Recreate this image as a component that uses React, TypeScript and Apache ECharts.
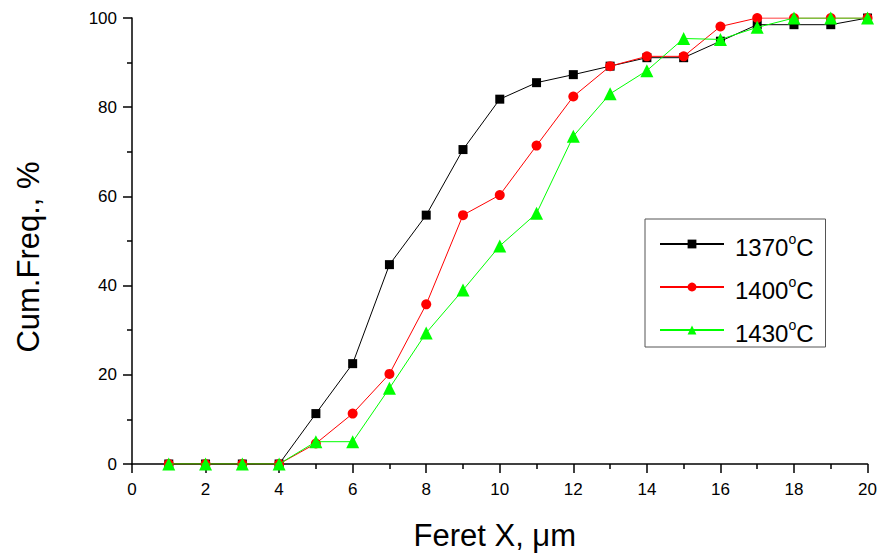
import React, { useEffect, useRef } from "react";
import * as echarts from "echarts";

const xValues = [1, 2, 3, 4, 5, 6, 7, 8, 9, 10, 11, 12, 13, 14, 15, 16, 17, 18, 19, 20];
const s1370 = [0, 0, 0, 0, 11.3, 22.5, 44.7, 55.8, 70.5, 81.8, 85.5, 87.3, 89.2, 91.1, 91.1, 94.8, 98.5, 98.5, 98.5, 100];
const s1400 = [0, 0, 0, 0, 4.6, 11.3, 20.2, 35.8, 55.8, 60.3, 71.4, 82.4, 89.2, 91.4, 91.4, 98.1, 100, 100, 100, 100];
const s1430 = [0, 0, 0, 0, 5.0, 5.0, 17.0, 29.4, 39.0, 48.9, 56.2, 73.5, 83.0, 88.2, 95.4, 95.2, 97.9, 100, 100, 100];
const seriesNames = ["1370", "1400", "1430"];
const colors = ["#000000", "#ff0000", "#00ff00"];
const symbols = ["rect", "circle", "triangle"];
const symbolSizes = [9, 10, 13];

export default function App() {
  const ref = useRef<HTMLDivElement>(null);
  useEffect(() => {
    if (!ref.current) return;
    const chart = echarts.init(ref.current, null, { renderer: "svg" });
    const datasets = [s1370, s1400, s1430];
    const font = "Liberation Sans, Arial, sans-serif";
    chart.setOption({
      animation: false,
      backgroundColor: "#ffffff",
      grid: { left: 132, right: 12, top: 18, bottom: 90, containLabel: false },
      legend: {
        orient: "vertical",
        left: 645,
        top: 219,
        padding: [13, 12, 2, 14],
        itemGap: 16,
        itemWidth: 64,
        itemHeight: 11,
        borderColor: "#555555",
        borderWidth: 1,
        data: seriesNames,
        formatter: (n: string) => `{a|${n}}{s|o}{a|C}`,
        textStyle: {
          fontFamily: font,
          color: "#000",
          padding: [0, 0, 0, 6],
          rich: {
            a: { fontSize: 24, fontFamily: font, color: "#000", padding: [6, 0, 0, 0] },
            s: { fontSize: 14, fontFamily: font, color: "#000", padding: [0, 0, 10, 0] },
          },
        },
      },
      xAxis: {
        type: "value",
        min: 0,
        max: 20,
        interval: 2,
        name: "Feret X, μm",
        nameLocation: "middle",
        nameGap: 56,
        nameTextStyle: { fontSize: 31, fontFamily: font, color: "#000", padding: [0, 10, 0, 0] },
        axisLine: { show: true, onZero: false, lineStyle: { color: "#000", width: 1.5 } },
        axisTick: { show: true, inside: false, length: 9, lineStyle: { color: "#000", width: 1.5 } },
        minorTick: { show: true, splitNumber: 2, length: 5, lineStyle: { color: "#000", width: 1.5 } },
        axisLabel: { fontSize: 17, fontFamily: font, color: "#000", margin: 17 },
        splitLine: { show: false },
      },
      yAxis: {
        type: "value",
        min: 0,
        max: 100,
        interval: 20,
        name: "Cum.Freq., %",
        nameLocation: "middle",
        nameGap: 88,
        nameTextStyle: { fontSize: 31, fontFamily: font, color: "#000", padding: [0, 32, 0, 0] },
        axisLine: { show: true, onZero: false, lineStyle: { color: "#000", width: 1.5 } },
        axisTick: { show: true, inside: false, length: 9, lineStyle: { color: "#000", width: 1.5 } },
        minorTick: { show: true, splitNumber: 2, length: 5, lineStyle: { color: "#000", width: 1.5 } },
        axisLabel: { fontSize: 17, fontFamily: font, color: "#000", margin: 15 },
        splitLine: { show: false },
      },
      series: datasets.map((d, i) => ({
        name: seriesNames[i],
        type: "line",
        data: xValues.map((x, j) => [x, d[j]]),
        symbol: symbols[i],
        symbolSize: symbolSizes[i],
        showAllSymbol: true,
        lineStyle: { color: colors[i], width: 1 },
        itemStyle: { color: colors[i] },
        z: 2 + i,
      })),
    });
    return () => chart.dispose();
  }, []);
  return (
    <div
      ref={ref}
      style={{ position: "fixed", left: 0, top: 0, width: 880, height: 556 }}
    />
  );
}
